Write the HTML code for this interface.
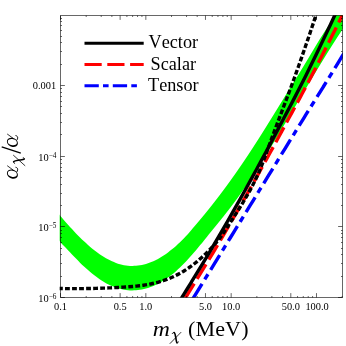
<!DOCTYPE html>
<html><head><meta charset="utf-8"><title>plot</title>
<style>
html,body{margin:0;padding:0;background:#fff;}
body{width:346px;height:346px;position:relative;overflow:hidden;font-family:"Liberation Serif",serif;color:#000;}
.t{position:absolute;white-space:nowrap;line-height:1;font-family:"Liberation Serif",serif;font-kerning:none;}
#txt{position:absolute;left:0;top:0;width:346px;height:346px;will-change:transform;}
.t sup{font-size:70%;vertical-align:baseline;position:relative;top:-0.42em;line-height:0;}
.t sub{font-size:70%;vertical-align:baseline;position:relative;top:0.3em;line-height:0;}
</style></head><body>
<svg width="346" height="346" viewBox="0 0 346 346" style="position:absolute;left:0;top:0">
<defs><clipPath id="cp"><rect x="59.7" y="15.2" width="283.1" height="282.2"/></clipPath></defs>
<rect width="346" height="346" fill="#fff"/>
<g clip-path="url(#cp)" fill="none">
<path d="M56.00,210.44 C56.67,211.30 58.67,213.93 60.00,215.56 C61.33,217.18 62.67,218.68 64.00,220.20 C65.33,221.72 66.67,223.18 68.00,224.66 C69.33,226.14 70.67,227.62 72.00,229.08 C73.33,230.53 74.67,231.98 76.00,233.38 C77.33,234.78 78.67,236.16 80.00,237.49 C81.33,238.82 82.67,240.11 84.00,241.37 C85.33,242.62 86.67,243.83 88.00,245.00 C89.33,246.17 90.67,247.31 92.00,248.39 C93.33,249.48 94.67,250.53 96.00,251.53 C97.33,252.54 98.67,253.50 100.00,254.41 C101.33,255.32 102.67,256.20 104.00,257.01 C105.33,257.83 106.67,258.60 108.00,259.31 C109.33,260.03 110.67,260.69 112.00,261.30 C113.33,261.90 114.67,262.45 116.00,262.94 C117.33,263.43 118.67,263.86 120.00,264.23 C121.33,264.60 122.67,264.92 124.00,265.17 C125.33,265.42 126.67,265.62 128.00,265.75 C129.33,265.89 130.67,265.96 132.00,265.98 C133.33,266.00 134.67,265.95 136.00,265.85 C137.33,265.75 138.67,265.59 140.00,265.37 C141.33,265.15 142.67,264.87 144.00,264.54 C145.33,264.20 146.67,263.81 148.00,263.35 C149.33,262.90 150.67,262.39 152.00,261.82 C153.33,261.25 154.67,260.62 156.00,259.94 C157.33,259.26 158.67,258.53 160.00,257.74 C161.33,256.95 162.67,256.11 164.00,255.22 C165.33,254.33 166.67,253.39 168.00,252.40 C169.33,251.41 170.67,250.37 172.00,249.29 C173.33,248.20 174.67,247.06 176.00,245.88 C177.33,244.70 178.67,243.48 180.00,242.21 C181.33,240.94 182.67,239.62 184.00,238.27 C185.33,236.91 186.21,236.12 188.00,234.09 C189.79,232.05 192.51,228.75 194.76,226.09 C197.02,223.42 199.31,220.75 201.53,218.09 C203.75,215.42 205.93,212.75 208.08,210.09 C210.22,207.42 212.33,204.75 214.41,202.09 C216.49,199.42 218.54,196.75 220.55,194.09 C222.57,191.42 224.55,188.75 226.51,186.09 C228.46,183.42 230.39,180.75 232.29,178.09 C234.19,175.42 236.07,172.75 237.92,170.09 C239.77,167.42 241.60,164.75 243.40,162.09 C245.21,159.42 246.99,156.75 248.75,154.09 C250.52,151.42 252.26,148.75 253.98,146.09 C255.71,143.42 257.42,140.75 259.11,138.09 C260.81,135.42 262.48,132.75 264.15,130.09 C265.82,127.42 267.47,124.75 269.12,122.09 C270.78,119.42 272.43,116.75 274.07,114.09 C275.72,111.42 277.36,108.75 279.00,106.09 C280.65,103.42 282.28,100.75 283.93,98.09 C285.57,95.42 287.21,92.75 288.86,90.09 C290.51,87.42 292.17,84.75 293.82,82.09 C295.47,79.42 297.14,76.75 298.78,74.09 C300.42,71.42 302.06,68.75 303.68,66.09 C305.30,63.42 306.90,60.75 308.50,58.09 C310.10,55.42 311.67,52.75 313.26,50.09 C314.86,47.42 316.43,44.75 318.07,42.09 C319.71,39.42 321.37,36.75 323.08,34.09 C324.79,31.42 326.58,28.75 328.35,26.09 C330.12,23.42 331.94,20.75 333.69,18.09 C335.43,15.42 337.14,12.75 338.83,10.09 C340.52,7.42 342.99,3.42 343.82,2.09 L362.71,0.45 C361.74,1.78 358.80,5.78 356.89,8.45 C354.98,11.12 353.11,13.78 351.25,16.45 C349.40,19.12 347.57,21.78 345.77,24.45 C343.97,27.12 342.20,29.78 340.44,32.45 C338.69,35.12 336.95,37.78 335.24,40.45 C333.53,43.12 331.83,45.78 330.16,48.45 C328.48,51.12 326.82,53.78 325.18,56.45 C323.53,59.12 321.90,61.78 320.29,64.45 C318.67,67.12 317.07,69.78 315.46,72.45 C313.86,75.12 312.27,77.78 310.67,80.45 C309.08,83.12 307.48,85.78 305.89,88.45 C304.30,91.12 302.71,93.78 301.12,96.45 C299.53,99.12 297.95,101.78 296.36,104.45 C294.77,107.12 293.19,109.78 291.61,112.45 C290.02,115.12 288.44,117.78 286.86,120.45 C285.28,123.12 283.70,125.78 282.11,128.45 C280.53,131.12 278.95,133.78 277.35,136.45 C275.76,139.12 274.15,141.78 272.54,144.45 C270.92,147.12 269.29,149.78 267.65,152.45 C266.00,155.12 264.34,157.78 262.67,160.45 C260.99,163.12 259.30,165.78 257.58,168.45 C255.87,171.12 254.14,173.78 252.37,176.45 C250.61,179.12 248.83,181.78 247.02,184.45 C245.20,187.12 243.36,189.78 241.47,192.45 C239.59,195.12 237.67,197.78 235.70,200.45 C233.74,203.12 231.73,205.78 229.68,208.45 C227.63,211.12 225.54,213.78 223.42,216.45 C221.30,219.12 219.13,221.78 216.96,224.45 C214.79,227.12 212.56,229.78 210.40,232.45 C208.24,235.12 205.73,238.30 204.00,240.45 C202.27,242.60 201.33,243.73 200.00,245.35 C198.67,246.98 197.33,248.60 196.00,250.18 C194.67,251.77 193.33,253.33 192.00,254.86 C190.67,256.38 189.33,257.88 188.00,259.33 C186.67,260.79 185.33,262.21 184.00,263.58 C182.67,264.95 181.33,266.28 180.00,267.55 C178.67,268.82 177.33,270.04 176.00,271.20 C174.67,272.37 173.33,273.48 172.00,274.54 C170.67,275.61 169.33,276.62 168.00,277.58 C166.67,278.54 165.33,279.45 164.00,280.31 C162.67,281.17 161.33,281.98 160.00,282.73 C158.67,283.49 157.33,284.19 156.00,284.83 C154.67,285.47 153.33,286.06 152.00,286.58 C150.67,287.11 149.33,287.57 148.00,287.98 C146.67,288.39 145.33,288.73 144.00,289.03 C142.67,289.33 141.33,289.58 140.00,289.78 C138.67,289.99 137.33,290.14 136.00,290.24 C134.67,290.35 133.33,290.40 132.00,290.39 C130.67,290.38 129.33,290.32 128.00,290.20 C126.67,290.08 125.33,289.91 124.00,289.68 C122.67,289.45 121.33,289.16 120.00,288.81 C118.67,288.47 117.33,288.06 116.00,287.60 C114.67,287.14 113.33,286.62 112.00,286.04 C110.67,285.47 109.33,284.83 108.00,284.14 C106.67,283.46 105.33,282.71 104.00,281.92 C102.67,281.12 101.33,280.28 100.00,279.38 C98.67,278.49 97.33,277.54 96.00,276.55 C94.67,275.56 93.33,274.53 92.00,273.45 C90.67,272.37 89.33,271.25 88.00,270.08 C86.67,268.92 85.33,267.72 84.00,266.48 C82.67,265.24 81.33,263.96 80.00,262.65 C78.67,261.33 77.33,259.98 76.00,258.61 C74.67,257.24 73.33,255.83 72.00,254.42 C70.67,253.01 69.33,251.58 68.00,250.18 C66.67,248.77 65.33,247.39 64.00,245.97 C62.67,244.55 61.33,243.16 60.00,241.63 C58.67,240.11 56.67,237.61 56.00,236.80 Z" fill="#00ff00" stroke="none"/>
<path d="M181.75,304.00 C182.80,302.28 185.92,297.10 188.02,293.66 C190.12,290.21 192.25,286.76 194.37,283.31 C196.50,279.86 198.64,276.41 200.75,272.97 C202.87,269.52 204.98,266.07 207.07,262.62 C209.16,259.17 211.23,255.72 213.29,252.28 C215.35,248.83 217.38,245.38 219.41,241.93 C221.44,238.48 223.46,235.03 225.46,231.59 C227.47,228.14 229.47,224.69 231.46,221.24 C233.45,217.79 235.43,214.34 237.41,210.90 C239.39,207.45 241.36,204.00 243.32,200.55 C245.28,197.10 247.23,193.66 249.18,190.21 C251.13,186.76 253.07,183.31 255.00,179.86 C256.94,176.41 258.86,172.97 260.78,169.52 C262.70,166.07 264.61,162.62 266.52,159.17 C268.42,155.72 270.32,152.28 272.21,148.83 C274.10,145.38 275.98,141.93 277.86,138.48 C279.73,135.03 281.60,131.59 283.46,128.14 C285.33,124.69 287.20,121.24 289.08,117.79 C290.95,114.34 292.82,110.90 294.69,107.45 C296.56,104.00 298.43,100.55 300.28,97.10 C302.14,93.66 303.99,90.21 305.82,86.76 C307.66,83.31 309.48,79.86 311.29,76.41 C313.09,72.97 314.87,69.52 316.65,66.07 C318.43,62.62 320.20,59.17 321.96,55.72 C323.72,52.28 325.47,48.83 327.22,45.38 C328.97,41.93 330.71,38.48 332.44,35.03 C334.17,31.59 335.90,28.14 337.62,24.69 C339.34,21.24 341.05,17.79 342.75,14.34 C344.46,10.90 346.99,5.72 347.84,4.00" stroke="#ff0000" stroke-width="3.4" stroke-dasharray="17 5.54" stroke-dashoffset="15.74"/>
<path d="M189.68,304.00 C190.74,302.28 193.91,297.10 196.03,293.66 C198.14,290.21 200.26,286.76 202.38,283.31 C204.49,279.86 206.61,276.41 208.72,272.97 C210.84,269.52 212.96,266.07 215.07,262.62 C217.19,259.17 219.30,255.72 221.42,252.28 C223.54,248.83 225.65,245.38 227.77,241.93 C229.88,238.48 232.00,235.03 234.12,231.59 C236.23,228.14 238.35,224.69 240.46,221.24 C242.58,217.79 244.70,214.34 246.81,210.90 C248.93,207.45 251.04,204.00 253.16,200.55 C255.28,197.10 257.39,193.66 259.51,190.21 C261.62,186.76 263.74,183.31 265.86,179.86 C267.97,176.41 270.09,172.97 272.20,169.52 C274.32,166.07 276.44,162.62 278.55,159.17 C280.67,155.72 282.78,152.28 284.90,148.83 C287.02,145.38 289.13,141.93 291.25,138.48 C293.36,135.03 295.47,131.59 297.60,128.14 C299.72,124.69 301.85,121.24 303.99,117.79 C306.13,114.34 308.28,110.90 310.43,107.45 C312.58,104.00 314.74,100.55 316.90,97.10 C319.05,93.66 321.20,90.21 323.35,86.76 C325.50,83.31 327.64,79.86 329.77,76.41 C331.90,72.97 334.01,69.52 336.13,66.07 C338.25,62.62 340.36,59.17 342.48,55.72 C344.60,52.28 346.71,48.83 348.83,45.38 C350.94,41.93 353.06,38.48 355.18,35.03 C357.29,31.59 359.41,28.14 361.52,24.69 C363.64,21.24 365.76,17.79 367.87,14.34 C369.99,10.90 373.16,5.72 374.22,4.00" stroke="#0000ff" stroke-width="3.4" stroke-dasharray="17.3 5.2 6.1 5.23" stroke-dashoffset="27.53"/>
<path d="M177.94,304.00 C178.99,302.28 182.16,297.10 184.27,293.66 C186.39,290.21 188.52,286.76 190.64,283.31 C192.76,279.86 194.89,276.41 196.99,272.97 C199.10,269.52 201.20,266.07 203.28,262.62 C205.36,259.17 207.42,255.72 209.47,252.28 C211.52,248.83 213.55,245.38 215.57,241.93 C217.59,238.48 219.59,235.03 221.59,231.59 C223.59,228.14 225.57,224.69 227.55,221.24 C229.52,217.79 231.49,214.34 233.45,210.90 C235.40,207.45 237.35,204.00 239.29,200.55 C241.23,197.10 243.16,193.66 245.08,190.21 C247.00,186.76 248.91,183.31 250.81,179.86 C252.71,176.41 254.60,172.97 256.48,169.52 C258.36,166.07 260.23,162.62 262.09,159.17 C263.96,155.72 265.81,152.28 267.65,148.83 C269.50,145.38 271.33,141.93 273.16,138.48 C274.98,135.03 276.79,131.59 278.60,128.14 C280.42,124.69 282.23,121.24 284.04,117.79 C285.85,114.34 287.66,110.90 289.47,107.45 C291.27,104.00 293.07,100.55 294.86,97.10 C296.64,93.66 298.42,90.21 300.18,86.76 C301.94,83.31 303.69,79.86 305.42,76.41 C307.14,72.97 308.84,69.52 310.54,66.07 C312.23,62.62 313.91,59.17 315.59,55.72 C317.26,52.28 318.93,48.83 320.58,45.38 C322.23,41.93 323.88,38.48 325.52,35.03 C327.15,31.59 328.78,28.14 330.40,24.69 C332.01,21.24 333.62,17.79 335.22,14.34 C336.82,10.90 339.19,5.72 339.98,4.00" stroke="#000" stroke-width="3.4"/>
<path d="M55.98,288.43 C56.59,288.44 58.43,288.48 59.65,288.51 C60.88,288.53 62.10,288.55 63.32,288.56 C64.55,288.58 65.77,288.60 66.99,288.61 C68.21,288.62 69.42,288.63 70.64,288.64 C71.86,288.64 73.08,288.65 74.29,288.65 C75.51,288.65 76.72,288.65 77.94,288.64 C79.15,288.64 80.36,288.63 81.58,288.62 C82.79,288.61 84.00,288.60 85.22,288.58 C86.43,288.57 87.64,288.55 88.85,288.53 C90.06,288.51 91.27,288.48 92.49,288.45 C93.70,288.43 94.91,288.40 96.12,288.37 C97.33,288.33 98.54,288.30 99.75,288.26 C100.97,288.22 102.18,288.18 103.39,288.14 C104.60,288.10 105.82,288.05 107.03,288.00 C108.24,287.95 109.46,287.90 110.67,287.85 C111.89,287.79 113.10,287.73 114.32,287.67 C115.53,287.61 116.75,287.55 117.97,287.48 C119.19,287.42 120.41,287.35 121.63,287.28 C122.85,287.20 124.07,287.13 125.29,287.05 C126.51,286.96 127.73,286.88 128.95,286.78 C130.17,286.69 131.39,286.59 132.61,286.48 C133.83,286.37 135.05,286.25 136.26,286.13 C137.48,286.00 138.69,285.86 139.90,285.71 C141.11,285.56 142.32,285.39 143.53,285.22 C144.73,285.04 145.93,284.85 147.13,284.64 C148.33,284.43 149.52,284.21 150.71,283.97 C151.90,283.73 153.09,283.48 154.27,283.20 C155.45,282.93 156.62,282.63 157.79,282.32 C158.96,282.00 160.12,281.67 161.28,281.31 C162.43,280.95 163.58,280.57 164.72,280.17 C165.86,279.77 167.00,279.35 168.13,278.91 C169.25,278.47 170.37,278.00 171.48,277.52 C172.59,277.04 173.69,276.53 174.79,276.01 C175.88,275.48 176.96,274.94 178.04,274.38 C179.11,273.81 180.18,273.23 181.23,272.63 C182.29,272.02 183.33,271.40 184.36,270.76 C185.40,270.12 186.42,269.46 187.43,268.78 C188.44,268.11 189.44,267.41 190.43,266.69 C191.41,265.98 192.39,265.25 193.35,264.50 C194.32,263.75 195.27,262.99 196.21,262.21 C197.15,261.43 198.08,260.64 199.01,259.84 C199.93,259.03 200.84,258.22 201.74,257.39 C202.64,256.57 203.54,255.73 204.42,254.88 C205.30,254.04 206.18,253.19 207.04,252.33 C207.91,251.47 208.77,250.61 209.62,249.74 C210.47,248.87 211.31,248.00 212.14,247.11 C212.97,246.23 213.79,245.34 214.59,244.44 C215.40,243.54 216.19,242.63 216.96,241.71 C217.74,240.78 218.50,239.85 219.23,238.90 C219.97,237.95 220.69,236.98 221.39,236.01 C222.09,235.03 222.76,234.03 223.44,233.03 C224.11,232.03 224.77,231.02 225.43,230.01 C226.09,229.00 226.74,227.98 227.40,226.96 C228.06,225.95 228.72,224.93 229.39,223.91 C230.05,222.89 230.71,221.87 231.37,220.85 C232.03,219.83 232.69,218.80 233.35,217.78 C234.01,216.75 234.67,215.73 235.33,214.70 C235.99,213.67 236.65,212.64 237.30,211.61 C237.95,210.58 238.60,209.54 239.25,208.50 C239.90,207.47 240.54,206.43 241.18,205.39 C241.82,204.35 242.46,203.30 243.09,202.26 C243.72,201.21 244.35,200.16 244.97,199.11 C245.59,198.06 246.21,197.00 246.82,195.94 C247.43,194.88 248.03,193.82 248.63,192.76 C249.23,191.70 249.82,190.63 250.40,189.56 C250.98,188.49 251.55,187.41 252.12,186.33 C252.68,185.25 253.24,184.17 253.79,183.09 C254.33,182.00 254.87,180.91 255.40,179.82 C255.93,178.72 256.45,177.63 256.95,176.52 C257.46,175.42 257.96,174.31 258.45,173.20 C258.93,172.09 259.41,170.98 259.88,169.86 C260.35,168.74 260.81,167.62 261.26,166.50 C261.71,165.38 262.16,164.25 262.60,163.12 C263.04,161.99 263.47,160.86 263.90,159.72 C264.34,158.59 264.76,157.45 265.18,156.32 C265.61,155.18 266.02,154.04 266.44,152.90 C266.86,151.76 267.27,150.62 267.69,149.48 C268.10,148.34 268.52,147.19 268.93,146.05 C269.35,144.91 269.76,143.77 270.18,142.62 C270.60,141.48 271.01,140.34 271.43,139.20 C271.85,138.06 272.28,136.92 272.70,135.77 C273.12,134.63 273.54,133.49 273.97,132.35 C274.39,131.21 274.82,130.07 275.24,128.93 C275.67,127.79 276.10,126.64 276.52,125.50 C276.95,124.36 277.38,123.22 277.81,122.08 C278.24,120.94 278.67,119.80 279.11,118.66 C279.54,117.52 279.97,116.37 280.40,115.23 C280.83,114.09 281.26,112.95 281.70,111.81 C282.13,110.67 282.56,109.52 282.99,108.38 C283.43,107.24 283.86,106.10 284.29,104.96 C284.72,103.81 285.15,102.67 285.59,101.53 C286.02,100.39 286.45,99.24 286.88,98.10 C287.31,96.96 287.74,95.81 288.17,94.67 C288.59,93.53 289.02,92.39 289.45,91.24 C289.87,90.10 290.30,88.96 290.72,87.81 C291.15,86.67 291.57,85.52 291.99,84.38 C292.42,83.24 292.84,82.09 293.25,80.95 C293.67,79.80 294.09,78.66 294.51,77.51 C294.92,76.37 295.34,75.22 295.75,74.08 C296.16,72.93 296.57,71.79 296.98,70.64 C297.38,69.49 297.79,68.35 298.19,67.20 C298.60,66.05 299.00,64.91 299.41,63.76 C299.81,62.61 300.22,61.47 300.62,60.32 C301.02,59.17 301.42,58.02 301.82,56.88 C302.22,55.73 302.62,54.58 303.02,53.43 C303.42,52.28 303.82,51.13 304.22,49.99 C304.62,48.84 305.01,47.69 305.41,46.54 C305.81,45.39 306.20,44.24 306.60,43.09 C306.99,41.94 307.38,40.79 307.78,39.63 C308.17,38.48 308.56,37.33 308.95,36.18 C309.34,35.03 309.73,33.88 310.12,32.72 C310.51,31.57 310.90,30.42 311.28,29.26 C311.67,28.11 312.06,26.96 312.44,25.80 C312.83,24.65 313.21,23.50 313.60,22.34 C313.98,21.19 314.36,20.03 314.74,18.88 C315.12,17.72 315.50,16.56 315.88,15.41 C316.26,14.25 316.64,13.09 317.02,11.94 C317.40,10.78 317.77,9.62 318.15,8.46 C318.52,7.31 319.08,5.57 319.27,4.99" stroke="#000" stroke-width="3.4" stroke-dasharray="4.82 2.216" stroke-dashoffset="5.03"/>
</g>
<path d="M60.50,15.50 H342.50 V297.50 H60.50 Z M60.50,297.50v-4.40 M60.50,15.50v4.40 M86.19,297.50v-1.50 M86.19,15.50v1.50 M101.21,297.50v-1.50 M101.21,15.50v1.50 M111.87,297.50v-1.50 M111.87,15.50v1.50 M120.14,297.50v-4.40 M120.14,15.50v4.40 M126.90,297.50v-1.50 M126.90,15.50v1.50 M132.61,297.50v-1.50 M132.61,15.50v1.50 M137.56,297.50v-1.50 M137.56,15.50v1.50 M141.93,297.50v-1.50 M141.93,15.50v1.50 M145.83,297.50v-4.40 M145.83,15.50v4.40 M171.52,297.50v-1.50 M171.52,15.50v1.50 M186.54,297.50v-1.50 M186.54,15.50v1.50 M197.20,297.50v-1.50 M197.20,15.50v1.50 M205.47,297.50v-4.40 M205.47,15.50v4.40 M212.23,297.50v-1.50 M212.23,15.50v1.50 M217.94,297.50v-1.50 M217.94,15.50v1.50 M222.89,297.50v-1.50 M222.89,15.50v1.50 M227.26,297.50v-1.50 M227.26,15.50v1.50 M231.16,297.50v-4.40 M231.16,15.50v4.40 M256.85,297.50v-1.50 M256.85,15.50v1.50 M271.87,297.50v-1.50 M271.87,15.50v1.50 M282.53,297.50v-1.50 M282.53,15.50v1.50 M290.80,297.50v-4.40 M290.80,15.50v4.40 M297.56,297.50v-1.50 M297.56,15.50v1.50 M303.27,297.50v-1.50 M303.27,15.50v1.50 M308.22,297.50v-1.50 M308.22,15.50v1.50 M312.59,297.50v-1.50 M312.59,15.50v1.50 M316.49,297.50v-4.40 M316.49,15.50v4.40 M342.18,297.50v-1.50 M342.18,15.50v1.50 M60.50,297.50h4.40 M342.50,297.50h-4.40 M60.50,276.50h1.50 M342.50,276.50h-1.50 M60.50,263.50h1.50 M342.50,263.50h-1.50 M60.50,254.50h1.50 M342.50,254.50h-1.50 M60.50,248.50h1.50 M342.50,248.50h-1.50 M60.50,242.50h1.50 M342.50,242.50h-1.50 M60.50,237.50h1.50 M342.50,237.50h-1.50 M60.50,233.50h1.50 M342.50,233.50h-1.50 M60.50,230.50h1.50 M342.50,230.50h-1.50 M60.50,226.50h4.40 M342.50,226.50h-4.40 M60.50,205.50h1.50 M342.50,205.50h-1.50 M60.50,193.50h1.50 M342.50,193.50h-1.50 M60.50,184.50h1.50 M342.50,184.50h-1.50 M60.50,177.50h1.50 M342.50,177.50h-1.50 M60.50,171.50h1.50 M342.50,171.50h-1.50 M60.50,167.50h1.50 M342.50,167.50h-1.50 M60.50,163.50h1.50 M342.50,163.50h-1.50 M60.50,159.50h1.50 M342.50,159.50h-1.50 M60.50,156.50h4.40 M342.50,156.50h-4.40 M60.50,134.50h1.50 M342.50,134.50h-1.50 M60.50,122.50h1.50 M342.50,122.50h-1.50 M60.50,113.50h1.50 M342.50,113.50h-1.50 M60.50,106.50h1.50 M342.50,106.50h-1.50 M60.50,101.50h1.50 M342.50,101.50h-1.50 M60.50,96.50h1.50 M342.50,96.50h-1.50 M60.50,92.50h1.50 M342.50,92.50h-1.50 M60.50,88.50h1.50 M342.50,88.50h-1.50 M60.50,85.50h4.40 M342.50,85.50h-4.40 M60.50,64.50h1.50 M342.50,64.50h-1.50 M60.50,51.50h1.50 M342.50,51.50h-1.50 M60.50,42.50h1.50 M342.50,42.50h-1.50 M60.50,36.50h1.50 M342.50,36.50h-1.50 M60.50,30.50h1.50 M342.50,30.50h-1.50 M60.50,25.50h1.50 M342.50,25.50h-1.50 M60.50,21.50h1.50 M342.50,21.50h-1.50 M60.50,18.50h1.50 M342.50,18.50h-1.50" fill="none" stroke="#000" stroke-width="0.6"/>
<path d="M84.5,43.3H143.7" stroke="#000" stroke-width="3.1" fill="none"/>
<path d="M84.5,64.5H143.7" stroke="#ff0000" stroke-width="3.1" stroke-dasharray="17.2 5.6" fill="none"/>
<path d="M84.5,85.8H140" stroke="#0000ff" stroke-width="3.1" stroke-dasharray="14.3 4.2 5.6 4.2" fill="none"/>
</svg>
<div id="txt">
<div class="t" style="left:60.50px;top:301.69px;font-size:10.40px;transform:translateX(-50%);">0.1</div>
<div class="t" style="left:120.14px;top:301.69px;font-size:10.40px;transform:translateX(-50%);">0.5</div>
<div class="t" style="left:145.83px;top:301.69px;font-size:10.40px;transform:translateX(-50%);">1.0</div>
<div class="t" style="left:205.47px;top:301.69px;font-size:10.40px;transform:translateX(-50%);">5.0</div>
<div class="t" style="left:231.16px;top:301.69px;font-size:10.40px;transform:translateX(-50%);">10.0</div>
<div class="t" style="left:290.80px;top:301.69px;font-size:10.40px;transform:translateX(-50%);">50.0</div>
<div class="t" style="left:317.09px;top:301.69px;font-size:10.40px;transform:translateX(-50%);">100.0</div>
<div class="t" style="left:56.40px;top:293.59px;font-size:10.40px;transform:translateX(-100%);">10<sup>&#8722;6</sup></div>
<div class="t" style="left:56.40px;top:223.14px;font-size:10.40px;transform:translateX(-100%);">10<sup>&#8722;5</sup></div>
<div class="t" style="left:56.40px;top:152.69px;font-size:10.40px;transform:translateX(-100%);">10<sup>&#8722;4</sup></div>
<div class="t" style="left:56.20px;top:80.94px;font-size:10.40px;transform:translateX(-100%);">0.001</div>
<div class="t" style="left:173.30px;top:33.06px;font-size:18.20px;transform:translateX(-50%);">Vector</div>
<div class="t" style="left:173.30px;top:54.76px;font-size:18.20px;transform:translateX(-50%);">Scalar</div>
<div class="t" style="left:173.30px;top:76.06px;font-size:18.20px;transform:translateX(-50%);">Tensor</div>
<svg width="346" height="346" viewBox="0 0 346 346" style="position:absolute;left:0;top:0;overflow:visible" font-family="Liberation Serif, serif" fill="#000">
<text transform="translate(152.8,335.9) scale(1.08,1)" font-size="22" font-style="italic">m</text>
<g transform="translate(170.05,343.5)" fill="none" stroke="#000" stroke-linecap="round"><path d="M0,0L10.85,-11.1" stroke-width="0.8"/><path d="M2.2,-9.9C2.7,-10.8 3.6,-11.2 4.3,-10.9" stroke-width="0.9"/><path d="M4.0,-10.9C5.0,-10.6 5.3,-8.2 5.8,-5.5C6.2,-3.2 6.4,-1.4 6.9,-0.7" stroke-width="1.6"/><path d="M6.7,-0.9C7.3,-0.1 7.9,-0.6 8.3,-1.6" stroke-width="0.9"/></g>
<text x="188.0" y="336.1" font-size="22" style="font-kerning:none;letter-spacing:0.15px">(MeV)</text>
<g transform="translate(17.7,179.6) rotate(-90)">
<g transform="translate(0.7,0)"><g transform="translate(-0.75,0) skewX(-9)"><path fill="#000" stroke="none" fill-rule="evenodd" d="M0.15,-5.30 a4.55,5.50 0 1,0 9.10,0 a4.55,5.50 0 1,0 -9.10,0 Z M1.90,-5.35 a3.10,4.55 0 1,0 6.20,0 a3.10,4.55 0 1,0 -6.20,0 Z"/></g><path fill="none" stroke="#000" stroke-width="0.8" stroke-linecap="round" d="M8.9,-4.6 L13.0,-10.2"/><path fill="none" stroke="#000" stroke-width="0.95" stroke-linecap="round" d="M7.2,-0.7 C8.3,0.15 10.0,0.2 10.7,-0.4 C11.2,-0.8 11.5,-1.3 11.6,-1.8"/></g>
<g transform="translate(14.0,7.2) scale(0.95,1.03)" fill="none" stroke="#000" stroke-linecap="round"><path d="M0,0L10.85,-11.1" stroke-width="0.8"/><path d="M2.2,-9.9C2.7,-10.8 3.6,-11.2 4.3,-10.9" stroke-width="0.9"/><path d="M4.0,-10.9C5.0,-10.6 5.3,-8.2 5.8,-5.5C6.2,-3.2 6.4,-1.4 6.9,-0.7" stroke-width="1.6"/><path d="M6.7,-0.9C7.3,-0.1 7.9,-0.6 8.3,-1.6" stroke-width="0.9"/></g>
<path d="M26.4,3.1L32.7,-16.0" stroke="#000" stroke-width="1.3" fill="none"/>
<g transform="translate(32.4,0)"><g transform="translate(-0.75,0) skewX(-9)"><path fill="#000" stroke="none" fill-rule="evenodd" d="M0.15,-5.30 a4.55,5.50 0 1,0 9.10,0 a4.55,5.50 0 1,0 -9.10,0 Z M1.90,-5.35 a3.10,4.55 0 1,0 6.20,0 a3.10,4.55 0 1,0 -6.20,0 Z"/></g><path fill="none" stroke="#000" stroke-width="0.8" stroke-linecap="round" d="M8.9,-4.6 L13.0,-10.2"/><path fill="none" stroke="#000" stroke-width="0.95" stroke-linecap="round" d="M7.2,-0.7 C8.3,0.15 10.0,0.2 10.7,-0.4 C11.2,-0.8 11.5,-1.3 11.6,-1.8"/></g>
</g>
</svg>
</div>
</body></html>
